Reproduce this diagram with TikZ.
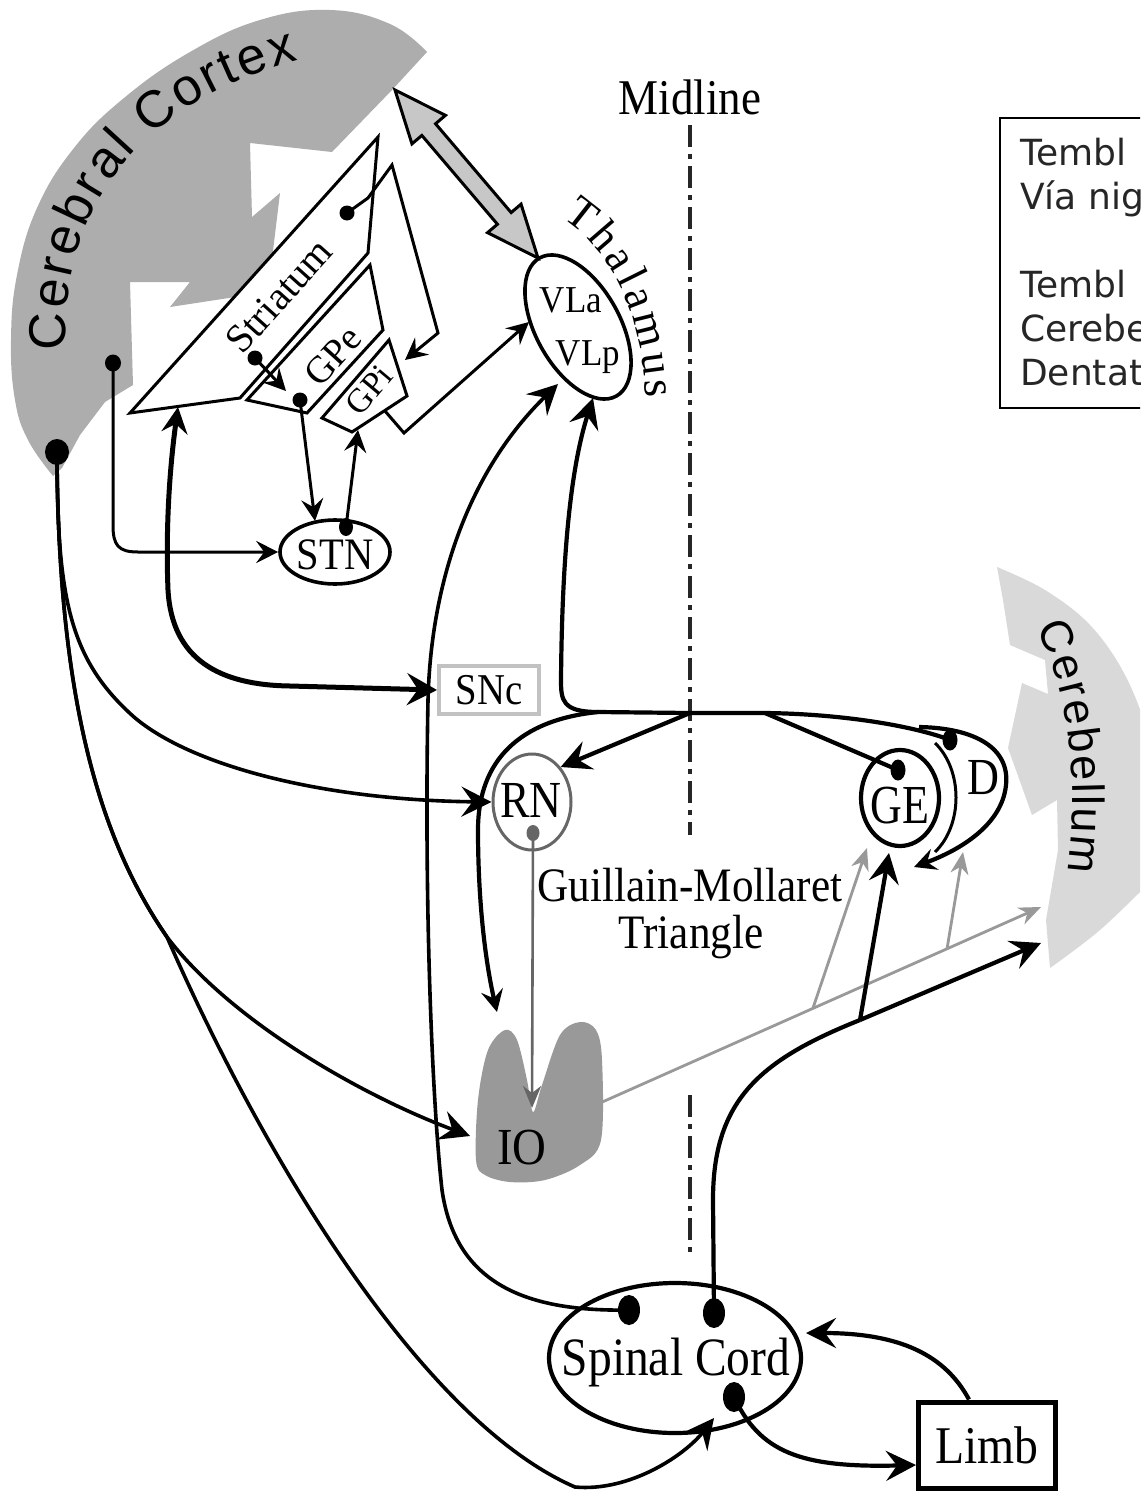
\documentclass[tikz,border=0pt]{standalone}
\usepackage{fontspec}
\setmainfont{Liberation Serif}
\newfontfamily\sansf{Liberation Sans}
\newfontfamily\legf{DejaVu Sans}
\usepackage{graphicx}
\usetikzlibrary{shapes.geometric,arrows.meta,calc,decorations.text}
\definecolor{ctxgrey}{gray}{0.68}
\definecolor{cbgrey}{gray}{0.85}
\definecolor{iogrey}{gray}{0.6}
\definecolor{lgrey}{gray}{0.6}
\definecolor{rngrey}{gray}{0.4}
\definecolor{sncgrey}{gray}{0.76}
\definecolor{dblfill}{gray}{0.78}
\newcommand{\cx}[2][0.9]{\scalebox{#1}[1]{#2}}
\newcommand{\fs}[1]{\fontsize{#1pt}{#1pt}\selectfont}
\begin{document}
\begin{tikzpicture}[x=1pt,y=-1pt,
  lbl/.style={inner sep=0pt, font=\fs{50}},
  legtx/.style={inner sep=0pt, anchor=base west, text=black!85, font=\legf\fs{36}},
  ell/.style={draw, ellipse, inner sep=0pt},
  dotn/.style={fill=black, ellipse, inner sep=0pt},
  lwa/.style={line width=3pt},
  lwb/.style={line width=3.6pt},
  lwc/.style={line width=4.2pt},
  lwd/.style={line width=5pt},
  arrbig/.style={-{Stealth[length=30pt,width=30pt,inset=11pt]}},
  arrm/.style={-{Stealth[length=22pt,width=22pt,inset=8pt]}},
  garr/.style={-{Stealth[length=22pt,width=18pt,inset=7pt]}},
  gline/.style={line width=2.8pt, draw=lgrey},
  midl/.style={line width=3.6pt, draw=black!85, dash pattern=on 22pt off 7pt on 5pt off 7pt},
]
\useasboundingbox (0,0) rectangle (1140,1493);
\fill[white] (0,0) rectangle (1140,1493);
\clip (0,0) rectangle (1140,1493);

% ---------- Cerebral cortex ----------
\fill[ctxgrey] plot[smooth, tension=0.7] coordinates {(53,476) (28,440) (15,400) (11,340) (17,275) (37,208) (74,148) (124,98) (190,52) (260,20) (330,10) (390,24) (427,52)}
  -- (392,90) -- (332,152) -- (250,143) -- (252,217) -- (280,193) -- (268,292) -- (170,307) -- (190,282) -- (130,282) -- (133,385) -- (105,402) -- (80,435) -- (62,468) -- cycle;
\path[decorate, decoration={text along path, text align={fit to path}, text={|\sansf\fs{52}|Cerebral Cortex}}]
  (66,350) .. controls (60,230) and (120,108) .. (298,60);

% ---------- Cerebellum ----------
\fill[cbgrey] plot[smooth, tension=0.6] coordinates {(997,567) (1045,590) (1090,625) (1125,675) (1150,740) (1160,800)}
  -- (1160,870) -- plot[smooth, tension=0.6] coordinates {(1150,882) (1100,930) (1050,968)}
  -- (1046,920) -- (1058,850) -- (1057,800) -- (1032,815) -- (1008,748) -- (1022,683) -- (1048,694) -- (1045,660) -- (1010,645) -- (1003,600) -- cycle;
\path[decorate, decoration={text along path, text align={fit to path}, text={|\sansf\fs{45}|Cerebellum}}]
  (1036,628) .. controls (1068,690) and (1080,780) .. (1068,872);

% ---------- Legend ----------
\draw[line width=2.5pt] (1000,118) rectangle (1180,408);
\node[legtx] (lg1) at (1020,165) {Tembl};
\node[legtx] (lg2) at (1020,209) {Vía nig};
\node[legtx] (lg3) at (1020,297) {Tembl};
\node[legtx] (lg4) at (1020,341) {Cerebe};
\node[legtx] (lg5) at (1020,385) {Dentat};

% ---------- Midline ----------
\node[lbl] (midtxt) at (690,97) {\cx{Midline}};
\coordinate (m1) at (690,125);
\coordinate (m2) at (690,835);
\coordinate (m3) at (690,1095);
\coordinate (m4) at (690,1255);
\draw[midl] (m1) -- (m2);
\draw[midl] (m3) -- (m4);

% ---------- Cortex <-> thalamus double arrow ----------
\coordinate (dA) at (395,90);
\coordinate (dB) at (538,258);
\draw[line width=3pt, fill=dblfill] (dA)
  -- ($(dA)!52pt!(dB)!22pt!270:(dB)$)
  -- ($(dA)!52pt!(dB)!9pt!270:(dB)$)
  -- ($(dB)!52pt!(dA)!9pt!90:(dA)$)
  -- ($(dB)!52pt!(dA)!22pt!90:(dA)$)
  -- (dB)
  -- ($(dB)!52pt!(dA)!22pt!270:(dA)$)
  -- ($(dB)!52pt!(dA)!9pt!270:(dA)$)
  -- ($(dA)!52pt!(dB)!9pt!90:(dB)$)
  -- ($(dA)!52pt!(dB)!22pt!90:(dB)$)
  -- cycle;

% ---------- Basal ganglia ----------
\draw[lwa, fill=white] (130,413) -- (378,137) -- (368,253) -- (240,398) -- cycle;
\draw[lwa, fill=white] (247,400) -- (370,265) -- (383,330) -- (307,413) -- cycle;
\draw[lwa, fill=white] (322,418) -- (389,340) -- (407,396) -- (352,432) -- cycle;
\node[lbl, font=\fs{40}, rotate=48] (strtx) at (279,296) {Striatum};
\node[lbl, font=\fs{38}, rotate=48] (gpetx) at (333,356) {GPe};
\node[lbl, font=\fs{34}, rotate=50] (gpitx) at (369,390) {GPi};

% ---------- Nuclei ----------
\node[ell, lwb, rotate=29, minimum width=84pt, minimum height=158pt] (thal) at (578,327) {};
\node[lbl, font=\fs{38}] (vla) at (571,300) {\cx[0.92]{VLa}};
\node[lbl, font=\fs{38}] (vlp) at (588,357) {\cx[0.92]{VLp}};
\path[decorate, decoration={text along path, text align={fit to path}, text={|\fs{45}|Thalamus}}]
  (562,218) .. controls (602,243) and (642,300) .. (646,398);

\node[ell, lwb, minimum width=110pt, minimum height=64pt] (stn) at (335,552) {};
\node[lbl, font=\fs{45}] (stntx) at (335,555) {\cx{STN}};

\node[draw=sncgrey, line width=4pt, minimum width=100pt, minimum height=48pt, inner sep=0pt, font=\fs{44}] (snc) at (489,690) {\cx[0.88]{SNc}};

\node[ell, lwa, draw=rngrey, minimum width=78pt, minimum height=96pt] (rn) at (532,802) {};
\node[lbl, font=\fs{52}] (rntx) at (531,800) {\cx[0.85]{RN}};

\node[ell, lwc, minimum width=78pt, minimum height=96pt] (ge) at (900,798) {};
\node[lbl, font=\fs{55}] (getx) at (900,806) {\cx[0.8]{GE}};
\node[lbl, font=\fs{52}] (dtx) at (983,778) {\cx[0.85]{D}};

\fill[iogrey] plot[smooth cycle, tension=0.55] coordinates {(476,1160) (478,1100) (488,1050) (505,1030) (517,1040) (527,1080) (533,1112) (542,1085) (560,1035) (580,1022) (596,1030) (602,1060) (601,1140) (580,1165) (545,1180) (510,1182) (485,1175)};
\node[lbl, font=\fs{52}] (iotx) at (522,1148) {\cx{IO}};

\node[lbl, font=\fs{48}] (gm1) at (690,885) {\cx{Guillain-Mollaret}};
\node[lbl, font=\fs{48}] (gm2) at (691,937) {\cx{Triangle}};

\node[ell, lwc, minimum width=252pt, minimum height=150pt] (sc) at (675,1358) {};
\node[lbl, font=\fs{54}] (sctx) at (676,1362) {\cx[0.88]{Spinal Cord}};

\node[draw, line width=5pt, minimum width=137pt, minimum height=86pt, inner sep=0pt, font=\fs{53}] (limb) at (987,1445) {\cx{Limb}};

% ---------- Dots ----------
\node[dotn, minimum width=15pt, minimum height=15pt] (sdot1) at (255,358) {};
\node[dotn, minimum width=15pt, minimum height=15pt] (gpedot) at (300,400) {};
\node[dotn, minimum width=15pt, minimum height=15pt] (sdot2) at (347,213) {};
\node[dotn, minimum width=14pt, minimum height=18pt] (stndot) at (346,527) {};
\node[dotn, minimum width=16pt, minimum height=17pt] (cdot1) at (113,363) {};
\node[dotn, minimum width=24pt, minimum height=26pt] (cdot2) at (57,452) {};
\node[dotn, fill=rngrey, minimum width=13pt, minimum height=16pt] (rndot) at (533,833) {};
\node[dotn, minimum width=15pt, minimum height=21pt] (gedot) at (898,770) {};
\node[dotn, minimum width=15pt, minimum height=21pt] (ddot) at (950,740) {};
\node[dotn, minimum width=22pt, minimum height=30pt] (scd1) at (629,1310) {};
\node[dotn, minimum width=22pt, minimum height=30pt] (scd2) at (714,1313) {};
\node[dotn, minimum width=22pt, minimum height=30pt] (scd3) at (734,1397) {};

% ---------- Basal ganglia connections ----------
\draw[lwa, arrm] (sdot1.center) -- (286,391);
\draw[lwa, arrm] (gpedot.center) -- (315,521);
\draw[lwa, arrm] (stndot.center) -- (358,430);
\draw[lwa, arrm] (sdot2.center) -- (368,198) -- (392,165) -- (438,333) -- (405,360);
\draw[lwa, arrm] (385,411) -- (404,433) -- (529,322);
\draw[lwa, arrm] (cdot1.center) -- (113,525) .. controls (113,545) and (118,552) .. (138,552) -- (stn.west);
\draw[lwd, {Stealth[length=26pt,width=26pt,inset=9pt]}-{Stealth[length=30pt,width=32pt,inset=11pt]}]
  (178,407) .. controls (168,480) and (166,540) .. (168,590) .. controls (172,660) and (220,685) .. (290,686) -- (snc.west);

% ---------- Cortical descending paths ----------
\draw[lwb, arrbig] (cdot2.center) .. controls (57,600) and (70,660) .. (134,717) .. controls (190,765) and (320,800) .. (rn.west);
\draw[lwb, arrbig] (cdot2.center) .. controls (58,700) and (100,840) .. (167,937) .. controls (230,1020) and (360,1095) .. (470,1136);
\draw[lwb, arrbig] (cdot2.center) .. controls (58,700) and (100,840) .. (167,937) .. controls (260,1150) and (420,1420) .. (575,1487) .. controls (630,1492) and (685,1455) .. (714,1418);

% ---------- Spinal cord to thalamus ----------
\draw[lwb, arrbig] (scd1.center) .. controls (520,1312) and (455,1280) .. (442,1190) .. controls (432,1100) and (424,900) .. (428,700) .. controls (431,580) and (470,470) .. (558,384);

% ---------- Grey olivary paths ----------
\coordinate (g0) at (600,1103);
\coordinate (g1) at (813,1008);
\coordinate (g2) at (947,949);
\coordinate (gend) at (1041,907);
\draw[gline, garr] (g0) -- (gend);
\draw[gline, garr] (g1) -- (867,848);
\draw[gline, garr] (g2) -- (963,852);
\draw[line width=2.6pt, draw=rngrey, garr] (rndot.center) -- (532,1108);

% ---------- Spinal cord to cerebellum ----------
\coordinate (j1) at (860,1020);
\draw[lwc] (scd2.center) -- (713,1200) .. controls (713,1100) and (760,1060) .. (j1);
\draw[lwc, arrbig] (j1) -- (889,853);
\draw[lwc, arrbig] (j1) -- (1041,943);

% ---------- Cerebellar output ----------
\coordinate (h1) at (765,713);
\coordinate (h2) at (690,713);
\coordinate (h3) at (598,712);
\draw[lwc, arrm] (ddot.center) .. controls (920,728) and (850,714) .. (h1) -- (h2) -- (h3) .. controls (520,720) and (478,760) .. (478,830) .. controls (478,900) and (485,960) .. (497,1012);
\draw[lwc, arrbig] (h3) .. controls (562,712) and (561,700) .. (561,680) .. controls (562,560) and (570,470) .. (593,398);
\draw[lwc, arrbig] (h2) -- (rn.north east);
\draw[lwc] (h1) -- (gedot.center);
\draw[lwc, arrm] (919,727) .. controls (975,728) and (1010,748) .. (1006,785) .. controls (1002,825) and (960,850) .. (914,867);
\draw[lwa] (935,743) .. controls (963,770) and (963,825) .. (935,852);

% ---------- Limb loop ----------
\draw[lwc, arrbig] ($(limb.north)+(-18,0)$) .. controls (945,1355) and (900,1333) .. (806,1333);
\draw[lwc, arrbig] (scd3.center) .. controls (760,1452) and (800,1468) .. ($(limb.west)+(0,20)$);
\end{tikzpicture}
\end{document}
